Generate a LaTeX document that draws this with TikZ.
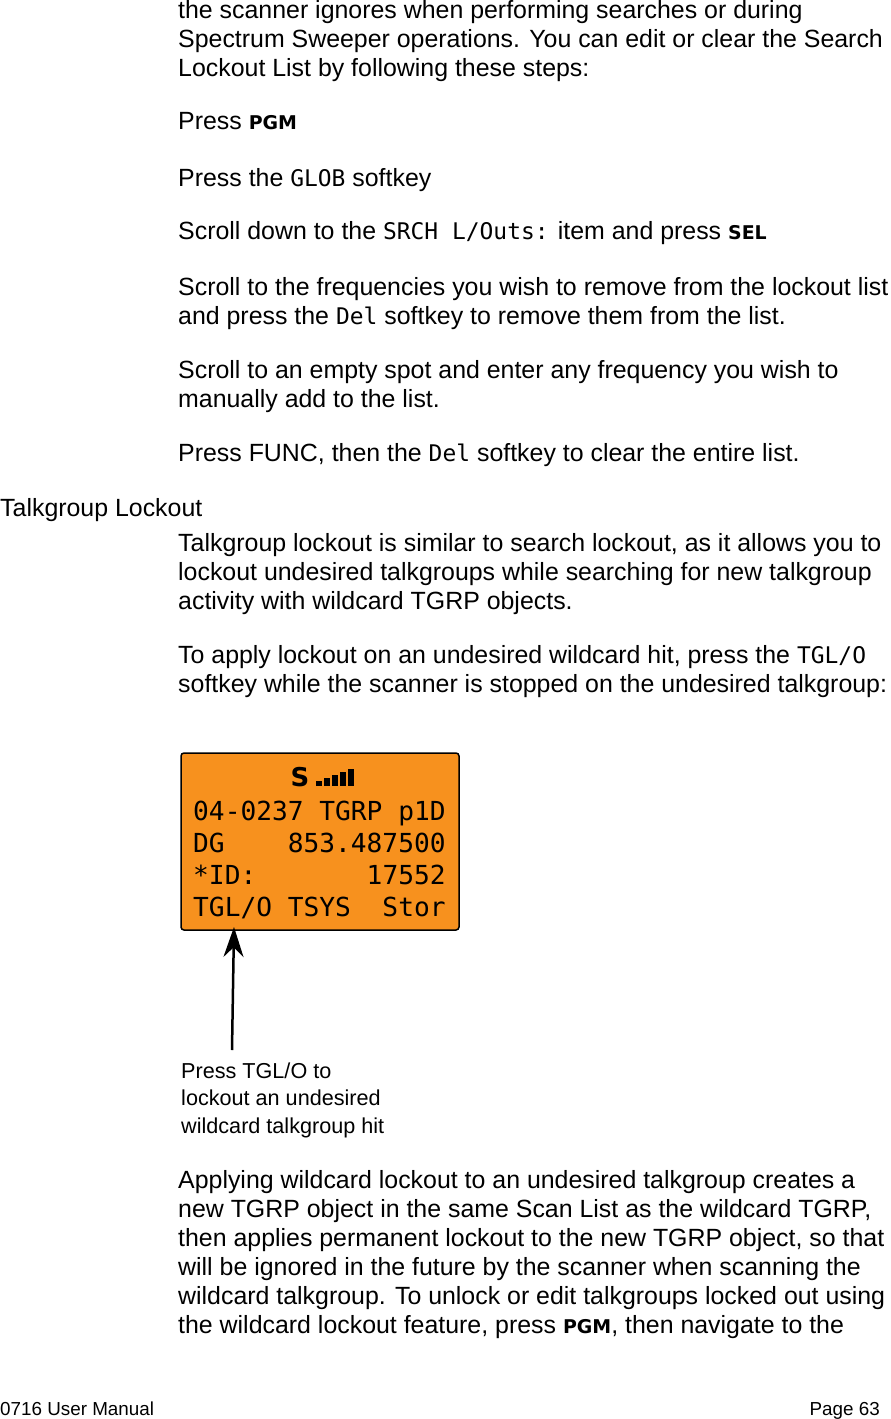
\documentclass[tikz,border=0pt]{standalone}
\usepackage{fontspec}
\setmainfont{Liberation Sans}
\newfontfamily\lcd{DejaVu Sans Mono}
\newfontfamily\keyf{DejaVu Sans}
\usetikzlibrary{arrows.meta}
\newcommand{\kb}[1]{{\keyf\bfseries\fontsize{19}{19}\selectfont #1}}
\newcommand{\lc}[1]{{\lcd\fontsize{23}{23}\selectfont #1}}
\begin{document}
\begin{tikzpicture}[x=1bp,y=-1bp,
  txt/.style={anchor=base west,inner sep=0,font=\fontsize{25}{29}\selectfont},
  captxt/.style={anchor=base west,inner sep=0,font=\fontsize{21.7}{27}\selectfont},
  lcdline/.style={anchor=base west,inner sep=0,font=\lcd\fontsize{26.3}{26}\selectfont}]
\useasboundingbox (0,0) rectangle (890,1419);
\node[txt] (p1a) at (178,19) {the scanner ignores when performing searches or during};
\node[txt] (p1b) at (178,48) {Spectrum Sweeper operations. You can edit or clear the Search};
\node[txt] (p1c) at (178,77) {Lockout List by following these steps:};
\node[txt] (p2) at (178,130) {Press \kb{PGM}};
\node[txt] (p3) at (178,187) {Press the \lc{GLOB} softkey};
\node[txt] (p4) at (178,240) {Scroll down to the \lc{SRCH L/Outs:} item and press \kb{SEL}};
\node[txt] (p5a) at (178,295) {Scroll to the frequencies you wish to remove from the lockout list};
\node[txt] (p5b) at (178,324) {and press the \lc{Del} softkey to remove them from the list.};
\node[txt] (p6a) at (178,378) {Scroll to an empty spot and enter any frequency you wish to};
\node[txt] (p6b) at (178,407) {manually add to the list.};
\node[txt] (p7) at (178,461) {Press FUNC, then the \lc{Del} softkey to clear the entire list.};
\node[txt] (h1) at (0,516) {Talkgroup Lockout};
\node[txt] (p8a) at (178,551) {Talkgroup lockout is similar to search lockout, as it allows you to};
\node[txt] (p8b) at (178,580) {lockout undesired talkgroups while searching for new talkgroup};
\node[txt] (p8c) at (178,609) {activity with wildcard TGRP objects.};
\node[txt] (p9a) at (178,663) {To apply lockout on an undesired wildcard hit, press the \lc{TGL/O}};
\node[txt] (p9b) at (178,692) {softkey while the scanner is stopped on the undesired talkgroup:};
% LCD
\draw[fill={rgb,255:red,247;green,145;blue,30},line width=1.5bp,rounded corners=3bp] (181,753) rectangle (459,930);
\node[inner sep=0,font=\keyf\bfseries\fontsize{26}{26}\selectfont] (s) at (300,777) {S};
\foreach \i/\h in {0/5,1/8,2/11,3/14,4/17}
  \fill (316+\i*8,786) rectangle ++(6,-\h);
\node[lcdline] (l1) at (193,820) {04-0237~TGRP~p1D};
\node[lcdline] (l2) at (193,852) {DG~~~~853.487500};
\node[lcdline] (l3) at (193,884) {*ID:~~~~~~~17552};
\node[lcdline] (l4) at (193,916) {TGL/O~TSYS~~Stor};
\coordinate (tail) at (232,1050);
\coordinate (tip) at (234,927);
\draw[line width=2.5bp,-{Stealth[length=30bp,width=20bp]}] (tail) -- (tip);
\node[captxt] (c1) at (181,1078) {Press TGL/O to};
\node[captxt] (c2) at (181,1105) {lockout an undesired};
\node[captxt] (c3) at (181,1133) {wildcard talkgroup hit};
\node[txt] (q1) at (178,1188) {Applying wildcard lockout to an undesired talkgroup creates a};
\node[txt] (q2) at (178,1217) {new TGRP object in the same Scan List as the wildcard TGRP,};
\node[txt] (q3) at (178,1246) {then applies permanent lockout to the new TGRP object, so that};
\node[txt] (q4) at (178,1275) {will be ignored in the future by the scanner when scanning the};
\node[txt] (q5) at (178,1304) {wildcard talkgroup. To unlock or edit talkgroups locked out using};
\node[txt] (q6) at (178,1333) {the wildcard lockout feature, press \kb{PGM}, then navigate to the};
\node[anchor=base west,inner sep=0,font=\fontsize{18.9}{19}\selectfont] (f1) at (0,1415) {0716 User Manual};
\node[anchor=base east,inner sep=0,font=\fontsize{18.9}{19}\selectfont] (f2) at (880,1415) {Page 63};
\end{tikzpicture}
\end{document}
